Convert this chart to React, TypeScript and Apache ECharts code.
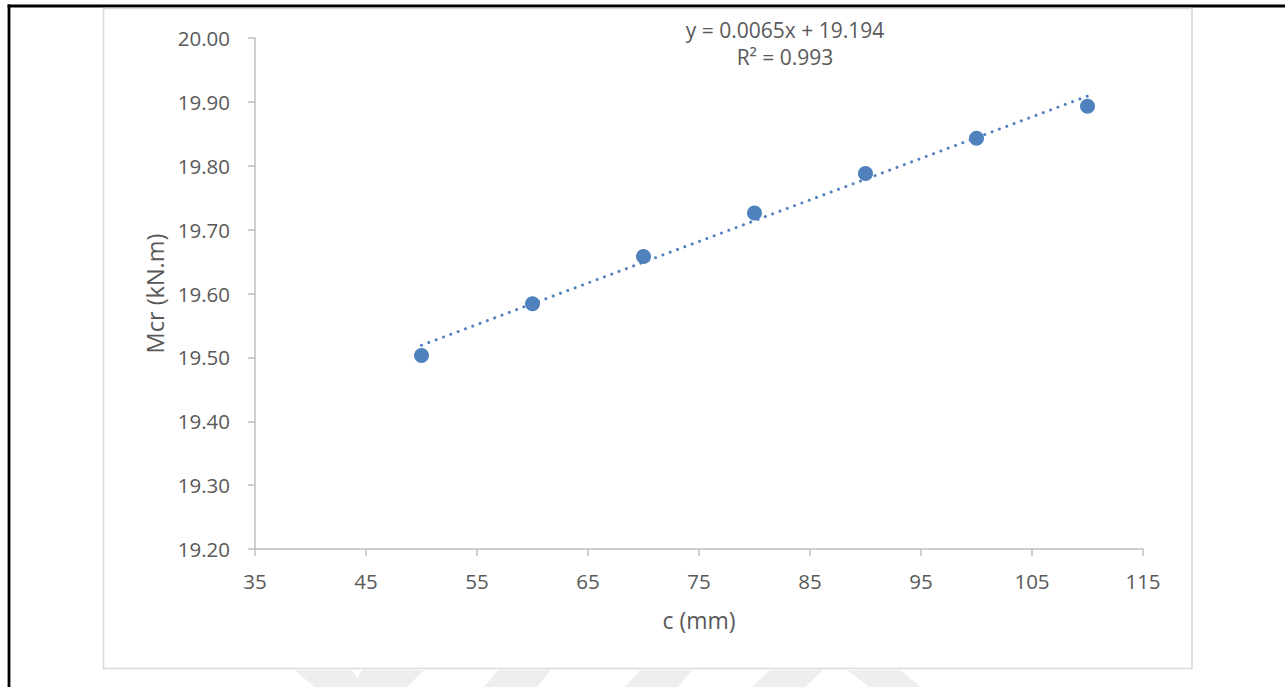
import React, { useEffect, useRef } from "react";
import * as echarts from "echarts";

const cValues = [50, 60, 70, 80, 90, 100, 110];
const mcrValues = [19.503, 19.584, 19.658, 19.726, 19.788, 19.843, 19.893];
const trendX = [50, 110];
const trendY = [19.519, 19.909];
const xTicks = [35, 45, 55, 65, 75, 85, 95, 105, 115];
const equationLines = ["y = 0.0065x + 19.194", "R² = 0.993"];

const FONT = "'Open Sans', 'Noto Sans', sans-serif";
const BLUE = "#4F81BD";
const LABEL = "#595959";
const AXIS = "#BFBFBF";

export default function App() {
  const ref = useRef<HTMLDivElement>(null);
  useEffect(() => {
    document.body.style.margin = "0";
    const chart = echarts.init(ref.current!, null, { renderer: "svg" });
    const wm = "#EEEEEE";
    chart.setOption({
      animation: false,
      backgroundColor: "#ffffff",
      grid: { left: 255, top: 38, right: 142, bottom: 138 },
      xAxis: {
        type: "value",
        min: 35,
        max: 115,
        name: "c (mm)",
        nameLocation: "middle",
        nameGap: 59,
        nameTextStyle: { fontFamily: FONT, fontSize: 23, color: LABEL },
        splitLine: { show: false },
        axisLine: { show: true, onZero: false, lineStyle: { color: AXIS, width: 1.5 } },
        axisTick: { show: true, length: 7, customValues: xTicks, lineStyle: { color: AXIS, width: 1.5 } },
        axisLabel: {
          customValues: xTicks,
          margin: 21,
          fontFamily: FONT,
          fontSize: 20.5,
          color: LABEL,
        },
      },
      yAxis: {
        type: "value",
        min: 19.2,
        max: 20.0,
        interval: 0.1,
        name: "Mcr (kN.m)",
        nameLocation: "middle",
        nameGap: 88,
        nameTextStyle: { fontFamily: FONT, fontSize: 23.5, color: LABEL },
        splitLine: { show: false },
        axisLine: { show: true, lineStyle: { color: AXIS, width: 1.5 } },
        axisTick: { show: true, length: 7, lineStyle: { color: AXIS, width: 1.5 } },
        axisLabel: {
          margin: 25,
          fontFamily: FONT,
          fontSize: 20.5,
          color: LABEL,
          formatter: (v: number) => v.toFixed(2),
        },
      },
      graphic: [
        { type: "line", shape: { x1: 9, y1: 4.5, x2: 9, y2: 687 }, style: { stroke: "#000", lineWidth: 2.8 } },
        { type: "line", shape: { x1: 7.6, y1: 6, x2: 1285, y2: 6 }, style: { stroke: "#000", lineWidth: 2.8 } },
        {
          type: "rect",
          shape: { x: 103.5, y: 8.5, width: 1088.5, height: 660 },
          style: { fill: "none", stroke: "#D9D9D9", lineWidth: 1.6 },
        },
        { type: "polygon", shape: { points: [[294, 670], [352, 670], [357, 678], [362, 670], [424, 670], [407, 687], [315, 687]] }, style: { fill: wm } },
        { type: "polygon", shape: { points: [[498, 670], [551, 670], [537, 687], [484, 687]] }, style: { fill: wm } },
        { type: "polygon", shape: { points: [[640, 670], [692, 670], [678, 687], [625, 687]] }, style: { fill: wm } },
        { type: "polygon", shape: { points: [[770, 670], [823, 670], [805, 687], [752, 687]] }, style: { fill: wm } },
        { type: "polygon", shape: { points: [[847, 670], [900, 670], [921, 687], [869, 687]] }, style: { fill: wm } },
        {
          type: "text",
          x: 785,
          y: 30,
          style: { text: equationLines[0], fontFamily: FONT, fontSize: 21, fill: LABEL, textAlign: "center", textVerticalAlign: "middle" },
        },
        {
          type: "text",
          x: 785,
          y: 57,
          style: { text: equationLines[1], fontFamily: FONT, fontSize: 21, fill: LABEL, textAlign: "center", textVerticalAlign: "middle" },
        },
      ],
      series: [
        {
          type: "line",
          data: trendX.map((x, i) => [x, trendY[i]]),
          symbol: "none",
          lineStyle: { color: BLUE, width: 3, type: [0.01, 7.8], cap: "round" },
          z: 2,
        },
        {
          type: "scatter",
          data: cValues.map((x, i) => [x, mcrValues[i]]),
          symbol: "circle",
          symbolSize: 15,
          itemStyle: { color: BLUE, opacity: 1 },
          z: 3,
        },
      ],
    });
    return () => chart.dispose();
  }, []);
  return <div ref={ref} style={{ position: "fixed", left: 0, top: 0, width: 1285, height: 687 }} />;
}
